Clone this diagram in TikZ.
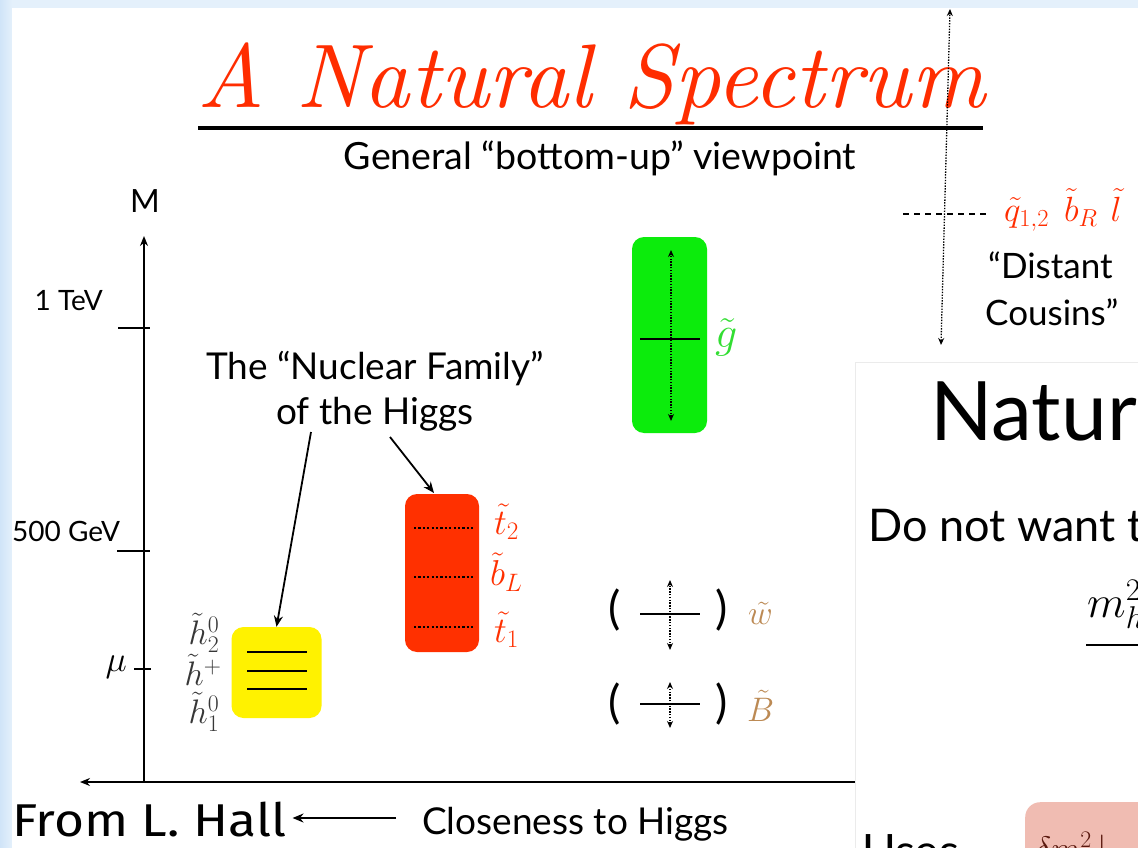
\RequirePackage{fix-cm}
\documentclass[tikz,border=0pt]{standalone}
\usepackage{fontspec}
\usepackage{graphicx}
\newfontfamily\gill{Lato}
\newfontfamily\fira{Fira Sans}
\usetikzlibrary{arrows.meta}
\definecolor{bgblue}{RGB}{208,228,248}
\definecolor{bgblue2}{RGB}{228,240,251}
\definecolor{titlered}{RGB}{255,45,0}
\definecolor{boxred}{RGB}{255,48,0}
\definecolor{boxgreen}{RGB}{12,236,12}
\definecolor{labgreen}{RGB}{50,222,50}
\definecolor{labbrown}{RGB}{188,138,84}
\definecolor{pinkbox}{RGB}{240,188,178}
\definecolor{darkred}{RGB}{90,25,15}
\definecolor{hgray}{RGB}{55,55,55}
\newcommand{\fs}[1]{\fontsize{#1}{1.2\dimexpr#1pt\relax}\selectfont}
\begin{document}
\begin{tikzpicture}[x=1pt,y=-1pt,
  txt/.style={inner sep=0pt,text=black},
  axisline/.style={line width=2pt,-{Stealth[length=10pt,width=8pt]}},
  tick/.style={line width=1.8pt},
  pointer/.style={line width=1.8pt,-{Stealth[length=11pt,width=9pt]}},
  dotarrow/.style={line width=1.3pt,dash pattern=on 1.4pt off 1.4pt,
     {Stealth[length=7pt,width=6pt]}-{Stealth[length=7pt,width=6pt]}},
  level/.style={line width=2.2pt},
  dotlevel/.style={line width=2.6pt,dash pattern=on 2.2pt off 2.2pt},
  specbox/.style={rounded corners=12pt,inner sep=0pt}]
\useasboundingbox (0,0) rectangle (1138,848);
% background
\fill[bgblue2] (0,0) rectangle (1138,848);
\shade[left color=bgblue,right color=bgblue2] (0,0) rectangle (12,848);
\fill[white] (12,8) rectangle (1138,848);

% title
\node[txt,anchor=base west,text=titlered] (title) at (197,108)
  {\resizebox{788pt}{!}{\itshape A Natural Spectrum}};
\coordinate (ul1) at (198,128);
\coordinate (ul2) at (983,128);
\draw[line width=4pt] (ul1) -- (ul2);
\node[txt,anchor=base] (sub) at (600,170) {\gill\fs{37.5}General “bottom-up” viewpoint};

% long dotted arrow and distant cousins
\coordinate (la1) at (950,9);
\coordinate (la2) at (941,345);
\draw[dotarrow] (la2) -- (la1);
\coordinate (dl1) at (903,214);
\coordinate (dl2) at (988,214);
\draw[line width=1.6pt,dash pattern=on 6pt off 5pt] (dl1) -- (dl2);
\node[txt,anchor=base west,text=titlered] (squarks) at (1004,221)
  {\fs{35}$\tilde q_{1,2}\hspace{15pt}\tilde b_R\hspace{13pt}\tilde l$};
\node[txt,anchor=base west] (dist) at (988,278) {\gill\fs{35}“Distant};
\node[txt,anchor=base west] (cous) at (985,325) {\gill\fs{35}Cousins”};

% overlay panel
\fill[white] (855,362) rectangle (1138,848);
\draw[black!8,line width=1pt] (855,848) -- (855,362) -- (1138,362);
\node[txt,anchor=base west] (natur) at (930,440) {\gill\fs{82}Natur};
\node[txt,anchor=base west] (donot) at (868,541) {\gill\fs{45}Do not want t};
\node[txt,anchor=base west] (frac) at (1087,617) {\fs{45}$m_h^2$};
\coordinate (fb1) at (1086,645);
\coordinate (fb2) at (1138,645);
\draw[line width=2pt] (fb1) -- (fb2);
\node[txt,anchor=base west] (uses) at (862,867) {\gill\fs{46}Uses};
\node[fill=pinkbox,rounded corners=15pt,minimum width=140pt,minimum height=90pt,
  anchor=north west,inner sep=0pt] (pink) at (1025,802) {};
\node[txt,anchor=base west,text=darkred] (dm) at (1035,860) {\fs{34}$\delta m^2\,|$};

% axes
\coordinate (yb) at (144,782);
\coordinate (yt) at (144,236);
\coordinate (xr) at (855,782);
\coordinate (xl) at (80,782);
\draw[axisline] (yb) -- (yt);
\draw[axisline] (xr) -- (xl);
\node[txt] (M) at (145,201) {\gill\fs{32}M};
\coordinate (t1a) at (118,328);
\coordinate (t1b) at (150,328);
\draw[tick] (t1a) -- (t1b);
\node[txt,anchor=base east] (tev) at (103,310) {\gill\fs{28}1 TeV};
\coordinate (t2a) at (117,551);
\coordinate (t2b) at (150,551);
\draw[tick] (t2a) -- (t2b);
\node[txt,anchor=base west] (gev) at (12,541) {\gill\fs{28}500 GeV};
\coordinate (t3a) at (134,669);
\coordinate (t3b) at (151,669);
\draw[tick] (t3a) -- (t3b);
\node[txt,anchor=east] (mu) at (127,667) {\fs{36}$\mu$};

% nuclear family
\node[txt,align=center,font={\gill\fontsize{37}{45}\selectfont}] (nf) at (375,391)
  {The “Nuclear Family”\\of the Higgs};

% higgsino box
\node[specbox,fill=yellow,minimum width=90pt,minimum height=91pt] (hbox) at (276.5,672.5) {};
\coordinate (h1a) at (247,652); \coordinate (h1b) at (307,652);
\coordinate (h2a) at (247,671); \coordinate (h2b) at (307,671);
\coordinate (h3a) at (247,689); \coordinate (h3b) at (307,689);
\draw[level] (h1a) -- (h1b);
\draw[level] (h2a) -- (h2b);
\draw[level] (h3a) -- (h3b);
\node[txt,text=hgray] (hn2) at (204,633) {\fs{34}$\tilde h_2^0$};
\node[txt,text=hgray] (hp) at (203,670) {\fs{34}$\tilde h^+$};
\node[txt,text=hgray] (hn1) at (204,712) {\fs{34}$\tilde h_1^0$};

% stop/sbottom box
\node[specbox,fill=boxred,minimum width=74pt,minimum height=158pt] (rbox) at (442,573) {};
\coordinate (r1a) at (414,528); \coordinate (r1b) at (475,528);
\coordinate (r2a) at (414,577); \coordinate (r2b) at (475,577);
\coordinate (r3a) at (414,627); \coordinate (r3b) at (475,627);
\draw[dotlevel] (r1a) -- (r1b);
\draw[dotlevel] (r2a) -- (r2b);
\draw[dotlevel] (r3a) -- (r3b);
\node[txt,text=boxred,anchor=west] (st2) at (494,522) {\fs{36}$\tilde t_2$};
\node[txt,text=boxred,anchor=west] (sbl) at (490,572) {\fs{36}$\tilde b_L$};
\node[txt,text=boxred,anchor=west] (st1) at (494,630) {\fs{36}$\tilde t_1$};

% pointers
\coordinate (p1s) at (311,432);
\coordinate (p2s) at (390,437);
\coordinate (p2e) at (434,493);
\draw[pointer] (p1s) -- (hbox.north);
\draw[pointer] (p2s) -- (p2e);

% gluino box
\node[specbox,fill=boxgreen,minimum width=75pt,minimum height=196pt] (gbox) at (669.5,335) {};
\coordinate (g1a) at (640,339); \coordinate (g1b) at (700,339);
\draw[level] (g1a) -- (g1b);
\coordinate (gda) at (671,250); \coordinate (gdb) at (671,421);
\draw[dotarrow] (gdb) -- (gda);
\node[txt,text=labgreen,anchor=west] (gl) at (715,337) {\fs{44}$\tilde g$};

% wino
\node[txt] (wl) at (615,610) {\gill\fs{46}(};
\node[txt] (wr) at (722,610) {\gill\fs{46})};
\coordinate (w1a) at (640,614); \coordinate (w1b) at (700,614);
\draw[level] (w1a) -- (w1b);
\coordinate (wda) at (670,580); \coordinate (wdb) at (670,650);
\draw[dotarrow] (wdb) -- (wda);
\node[txt,text=labbrown,anchor=west] (wino) at (748,613) {\fs{34}$\tilde w$};

% bino
\node[txt] (bl) at (615,704) {\gill\fs{46}(};
\node[txt] (br) at (722,704) {\gill\fs{46})};
\coordinate (b1a) at (640,704); \coordinate (b1b) at (700,704);
\draw[level] (b1a) -- (b1b);
\coordinate (bda) at (670,682); \coordinate (bdb) at (670,728);
\draw[dotarrow] (bdb) -- (bda);
\node[txt,text=labbrown,anchor=west] (bino) at (747,706) {\fs{34}$\tilde B$};

% bottom
\node[txt,anchor=base west] (hall) at (12,836) {\scalebox{1.12}[1]{\fira\fs{46}From L. Hall}};
\node[txt,anchor=base west] (close) at (422,834) {\gill\fs{37}Closeness to Higgs};
\coordinate (ca1) at (396,818);
\draw[line width=2pt,-{Stealth[length=11pt,width=9pt]}] (ca1) -- ([xshift=6pt]hall.east |- ca1);
\end{tikzpicture}
\end{document}
